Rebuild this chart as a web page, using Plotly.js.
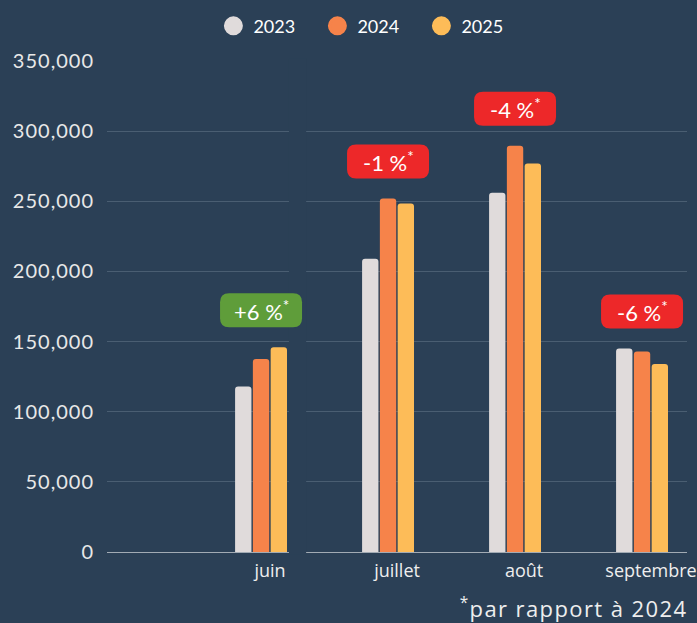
<!DOCTYPE html>
<html>
<head>
<meta charset="utf-8">
<script src="https://cdn.plot.ly/plotly-3.0.1.min.js"></script>
<style>
  html, body { margin: 0; padding: 0; background: #2b4056; }
  #chart { width: 697px; height: 623px; }
  g.annotation[data-index="4"] text { letter-spacing: 1.4px; }
  .ytick text { letter-spacing: 1px; }
</style>
</head>
<body>
<div id="chart"></div>
<script>
// ---- data ----
const months = ['juin', 'juillet', 'août', 'septembre'];
const years = ['2023', '2024', '2025'];
const values2023 = [118000, 209000, 256000, 145000];
const values2024 = [137500, 252000, 289500, 143000];
const values2025 = [146000, 248500, 277000, 134000];
const changeLabels = ['+6 %', '-1 %', '-4 %', '-6 %'];
const footnote = '<sup>*</sup>par rapport à 2024';

// ---- styles ----
const bg = '#2b4056';
const colors = ['#e0dbdb', '#f6834a', '#fdbc58'];
const green = '#5f9d3a';
const red = '#ed2829';
const series = [values2023, values2024, values2025];

const traces = series.map((vals, i) => ({
  type: 'bar',
  x: months,
  y: vals,
  name: years[i],
  marker: { color: colors[i], line: { width: 0 } },
  showlegend: false,
  hoverinfo: 'x+y+name'
}));

// legend-only circle entries
years.forEach((yr, i) => {
  traces.push({
    type: 'scatter',
    mode: 'markers',
    x: [null], y: [null],
    name: yr,
    marker: { color: colors[i], size: 18, symbol: 'circle', line: { color: colors[i], width: 3 } },
    showlegend: true,
    hoverinfo: 'skip'
  });
});

function badgePath(w, b, h, r) {
  const L = -w / 2, R = w / 2, T = b + h;
  return `M ${L + r} ${b} L ${R - r} ${b} Q ${R} ${b} ${R} ${b + r} ` +
         `L ${R} ${T - r} Q ${R} ${T} ${R - r} ${T} ` +
         `L ${L + r} ${T} Q ${L} ${T} ${L} ${T - r} ` +
         `L ${L} ${b + r} Q ${L} ${b} ${L + r} ${b} Z`;
}

const shapes = [];
// gap separating the first group from the rest (drawn first, under the badges)
shapes.push({
  type: 'rect', xref: 'x', yref: 'paper',
  x0: 0.22, x1: 0.355, y0: -0.005, y1: 1.005,
  fillcolor: bg, line: { width: 0 }, layer: 'above'
});

const badgeW = 82, badgeB = 20, badgeH = 34, badgeR = 9;
const annotations = [];
months.forEach((m, i) => {
  const top = Math.max(values2023[i], values2024[i], values2025[i]);
  const col = changeLabels[i].startsWith('+') ? green : red;
  shapes.push({
    type: 'path',
    xref: 'x', yref: 'y',
    xsizemode: 'pixel', ysizemode: 'pixel',
    xanchor: m, yanchor: top,
    path: badgePath(badgeW, badgeB, badgeH, badgeR),
    fillcolor: col,
    line: { width: 0 },
    layer: 'above'
  });
  annotations.push({
    x: m, y: top, xref: 'x', yref: 'y',
    yshift: badgeB + badgeH / 2,
    text: changeLabels[i] + '<sup>*</sup>',
    showarrow: false,
    xanchor: 'center', yanchor: 'middle',
    font: { family: 'Lato, sans-serif', size: 22, color: '#ffffff' }
  });
});

annotations.push({
  xref: 'paper', yref: 'paper',
  x: 0.627, y: -0.114,
  xanchor: 'left', yanchor: 'middle',
  text: footnote,
  showarrow: false,
  font: { family: 'Open Sans, sans-serif', size: 22, color: '#eeeeee' }
});

const layout = {
  width: 697, height: 623,
  paper_bgcolor: bg, plot_bgcolor: bg,
  margin: { l: 107, r: 10, t: 61, b: 71, pad: 0 },
  barmode: 'group',
  bargap: 0.58,
  bargroupgap: 0.08,
  barcornerradius: 3,
  showlegend: true,
  legend: {
    orientation: 'h',
    xref: 'container', yref: 'container',
    x: 0.53, y: 0.958,
    xanchor: 'center', yanchor: 'middle',
    entrywidth: 59,
    font: { family: 'Lato, sans-serif', size: 18, color: '#ffffff' },
    bgcolor: 'rgba(0,0,0,0)',
    traceorder: 'normal'
  },
  xaxis: {
    type: 'category',
    categoryorder: 'array', categoryarray: months,
    range: [-1.213, 3.354],
    showgrid: false, zeroline: false, showline: false,
    ticks: '',
    ticklabelshift: 9,
    ticklabelstandoff: 6,
    tickfont: { family: 'Open Sans, sans-serif', size: 18, color: '#eeeeee' },
    fixedrange: true
  },
  yaxis: {
    range: [0, 350000],
    dtick: 50000,
    tickformat: ',',
    showgrid: true, gridcolor: '#4a5e72', gridwidth: 1,
    zeroline: true, zerolinecolor: '#a2abb4', zerolinewidth: 1,
    showline: false, ticks: '',
    ticklabelstandoff: 12,
    tickfont: { family: 'Lato, sans-serif', size: 20, color: '#e8e8e8' },
    fixedrange: true
  },
  shapes: shapes,
  annotations: annotations,
  hovermode: false
};

Plotly.newPlot('chart', traces, layout, { displayModeBar: false, staticPlot: true });
</script>
</body>
</html>
